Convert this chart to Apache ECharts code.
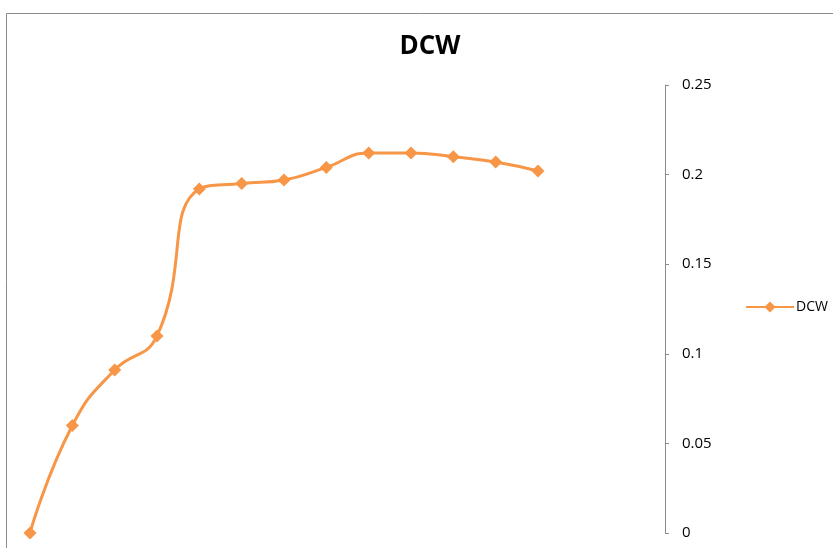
<!DOCTYPE html>
<html>
<head>
<meta charset="utf-8">
<script src="https://cdn.jsdelivr.net/npm/echarts@6/dist/echarts.min.js"></script>
<style>
  html, body { margin: 0; padding: 0; background: #fff; }
  #chart { width: 833px; height: 548px; }
</style>
</head>
<body>
<div id="chart"></div>
<script>
// Sampling points along the x axis (axis itself is not labelled)
const categories = ['1','2','3','4','5','6','7','8','9','10','11','12','13','14','15','16'];
// DCW measurements
const dcwValues = [0, 0.06, 0.091, 0.11, 0.192, 0.195, 0.197, 0.204, 0.212, 0.212, 0.21, 0.207, 0.202];
// Value axis ticks
const yTicks = [0, 0.05, 0.1, 0.15, 0.2, 0.25];

const chart = echarts.init(document.getElementById('chart'));
chart.setOption({
  backgroundColor: '#fff',
  animation: false,
  graphic: [{
    type: 'rect',
    shape: { x: 6.5, y: 13.5, width: 900, height: 600 },
    style: { fill: 'none', stroke: '#8c8c8c', lineWidth: 1 },
    silent: true
  }],
  title: {
    text: 'DCW',
    left: 425, top: 29,
    textAlign: 'center',
    textStyle: { fontFamily: 'Open Sans', fontWeight: 'bold', fontSize: 26, color: '#000' }
  },
  legend: {
    data: ['DCW'],
    left: 745, top: 300, padding: 0,
    itemWidth: 48, itemHeight: 14, itemGap: 2,
    textStyle: { fontFamily: 'Open Sans', fontSize: 14, color: '#000', padding: [0, 0, 0, -3] }
  },
  grid: { left: 30, right: 168, top: 85, bottom: 15 },
  xAxis: {
    type: 'category',
    data: categories,
    boundaryGap: false,
    show: false
  },
  yAxis: {
    type: 'value',
    position: 'right',
    min: yTicks[0], max: yTicks[yTicks.length - 1], interval: 0.05,
    axisLine: { show: true, lineStyle: { color: '#8c8c8c', width: 1 } },
    axisTick: { show: true, inside: false, length: 4, lineStyle: { color: '#8c8c8c' } },
    splitLine: { show: false },
    axisLabel: {
      margin: 17,
      fontFamily: 'Open Sans', fontSize: 15, color: '#000',
      formatter: v => String(parseFloat(v.toFixed(2)))
    }
  },
  series: [{
    name: 'DCW',
    type: 'line',
    data: dcwValues,
    smooth: 0.5,
    symbol: 'diamond',
    symbolSize: 13,
    lineStyle: { color: '#F79646', width: 3 },
    itemStyle: { color: '#F79646' }
  }]
});
</script>
</body>
</html>
